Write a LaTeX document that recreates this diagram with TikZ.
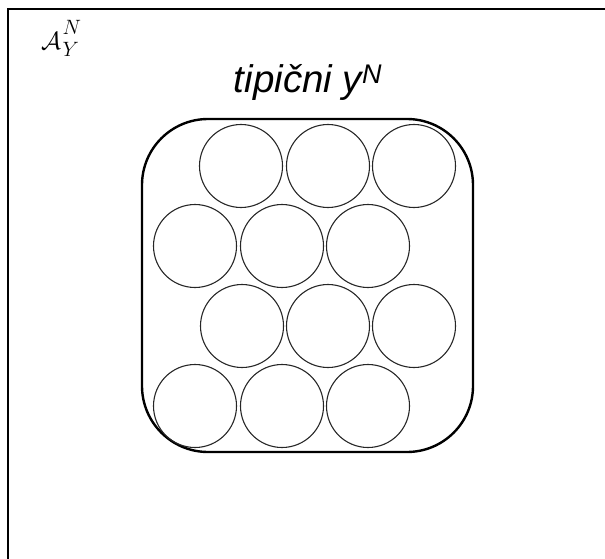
\documentclass[tikz,border=0pt]{standalone}
\usepackage{fontspec}
\setmainfont{Liberation Sans}
\begin{document}
\begin{tikzpicture}[x=1pt,y=-1pt,
  frame/.style={draw=black,line width=2pt},
  typset/.style={draw=black,line width=2.4pt,rounded corners=66pt,minimum width=331pt,minimum height=333pt,inner sep=0pt},
  ball/.style={draw=black!85,line width=1.1pt,circle,minimum size=83pt,inner sep=0pt},
  lbl/.style={inner sep=0pt,anchor=base}]
\useasboundingbox (0,0) rectangle (605,559);
\begin{scope}
\clip (0,0) rectangle (605,559);
\draw[frame] (8,9) rectangle (620,575);
\end{scope}
\node[lbl,anchor=base west] (aset) at (41,50) {\fontsize{28}{34}\selectfont$\mathcal{A}$\hspace{1.5pt}\rlap{\raisebox{15pt}{\fontsize{20}{24}\selectfont$N$}}\raisebox{-7pt}{\fontsize{20}{24}\selectfont$Y$}};
\node[lbl] (title) at (308,93) {\fontsize{38.5}{44}\selectfont\itshape tipični y\textsuperscript{N}};
\node[typset] (typ) at (307.5,285.5) {};
% row 1
\node[ball] (c11) at (241,166) {};
\node[ball] (c12) at (328,166) {};
\node[ball] (c13) at (414,166) {};
% row 2
\node[ball] (c21) at (195,246) {};
\node[ball] (c22) at (282,246) {};
\node[ball] (c23) at (368,246) {};
% row 3
\node[ball] (c31) at (242,326) {};
\node[ball] (c32) at (328,326) {};
\node[ball] (c33) at (414,326) {};
% row 4
\node[ball] (c41) at (195,406) {};
\node[ball] (c42) at (282,406) {};
\node[ball] (c43) at (368,406) {};
\end{tikzpicture}
\end{document}
